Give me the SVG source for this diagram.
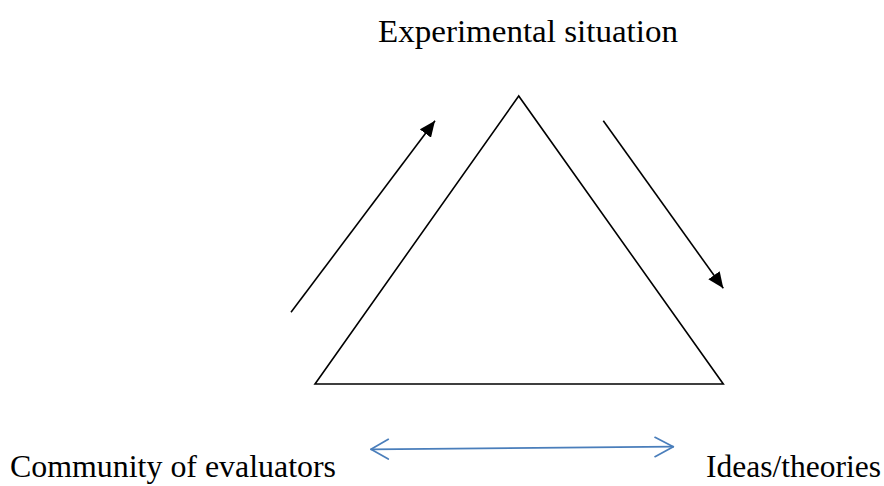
<svg xmlns="http://www.w3.org/2000/svg" width="884" height="486" viewBox="0 0 884 486">
<style>
.lbl{font-family:"Liberation Serif","Times New Roman",serif;font-size:31px;fill:#000}
.edge{fill:none;stroke:#000;stroke-width:1.6}
.blue{fill:none;stroke:#4a7ebb;stroke-width:1.7;stroke-linecap:round;stroke-linejoin:round}
</style>
<defs>
<marker id="ah" markerUnits="userSpaceOnUse" markerWidth="18" markerHeight="14" refX="16" refY="7" orient="auto">
<path d="M0,0 L16,7 L0,14 Z" fill="#000"/>
</marker>
</defs>
<rect width="884" height="486" fill="#fff"/>
<g id="triangle">
<polygon class="edge" points="518.7,96 315,384 723.3,384"/>
</g>
<g id="label-experimental">
<text class="lbl" x="378" y="41.7" textLength="300" lengthAdjust="spacingAndGlyphs">Experimental situation</text>
</g>
<g id="label-community">
<text class="lbl" x="10" y="476.5" textLength="326" lengthAdjust="spacingAndGlyphs">Community of evaluators</text>
</g>
<g id="label-ideas">
<text class="lbl" x="706" y="476.5" textLength="175" lengthAdjust="spacingAndGlyphs">Ideas/theories</text>
</g>
<g id="connectors">
<line class="edge" x1="291" y1="312.3" x2="435" y2="120.7" marker-end="url(#ah)"/>
<line class="edge" x1="603.3" y1="120.7" x2="723.3" y2="288.3" marker-end="url(#ah)"/>
<line class="blue" x1="371" y1="449.3" x2="673.3" y2="446.7"/>
<polyline class="blue" points="388.3,439.3 371,449.3 388.3,459"/>
<polyline class="blue" points="655,437.3 673.3,446.7 655,456.7"/>
</g>
</svg>
